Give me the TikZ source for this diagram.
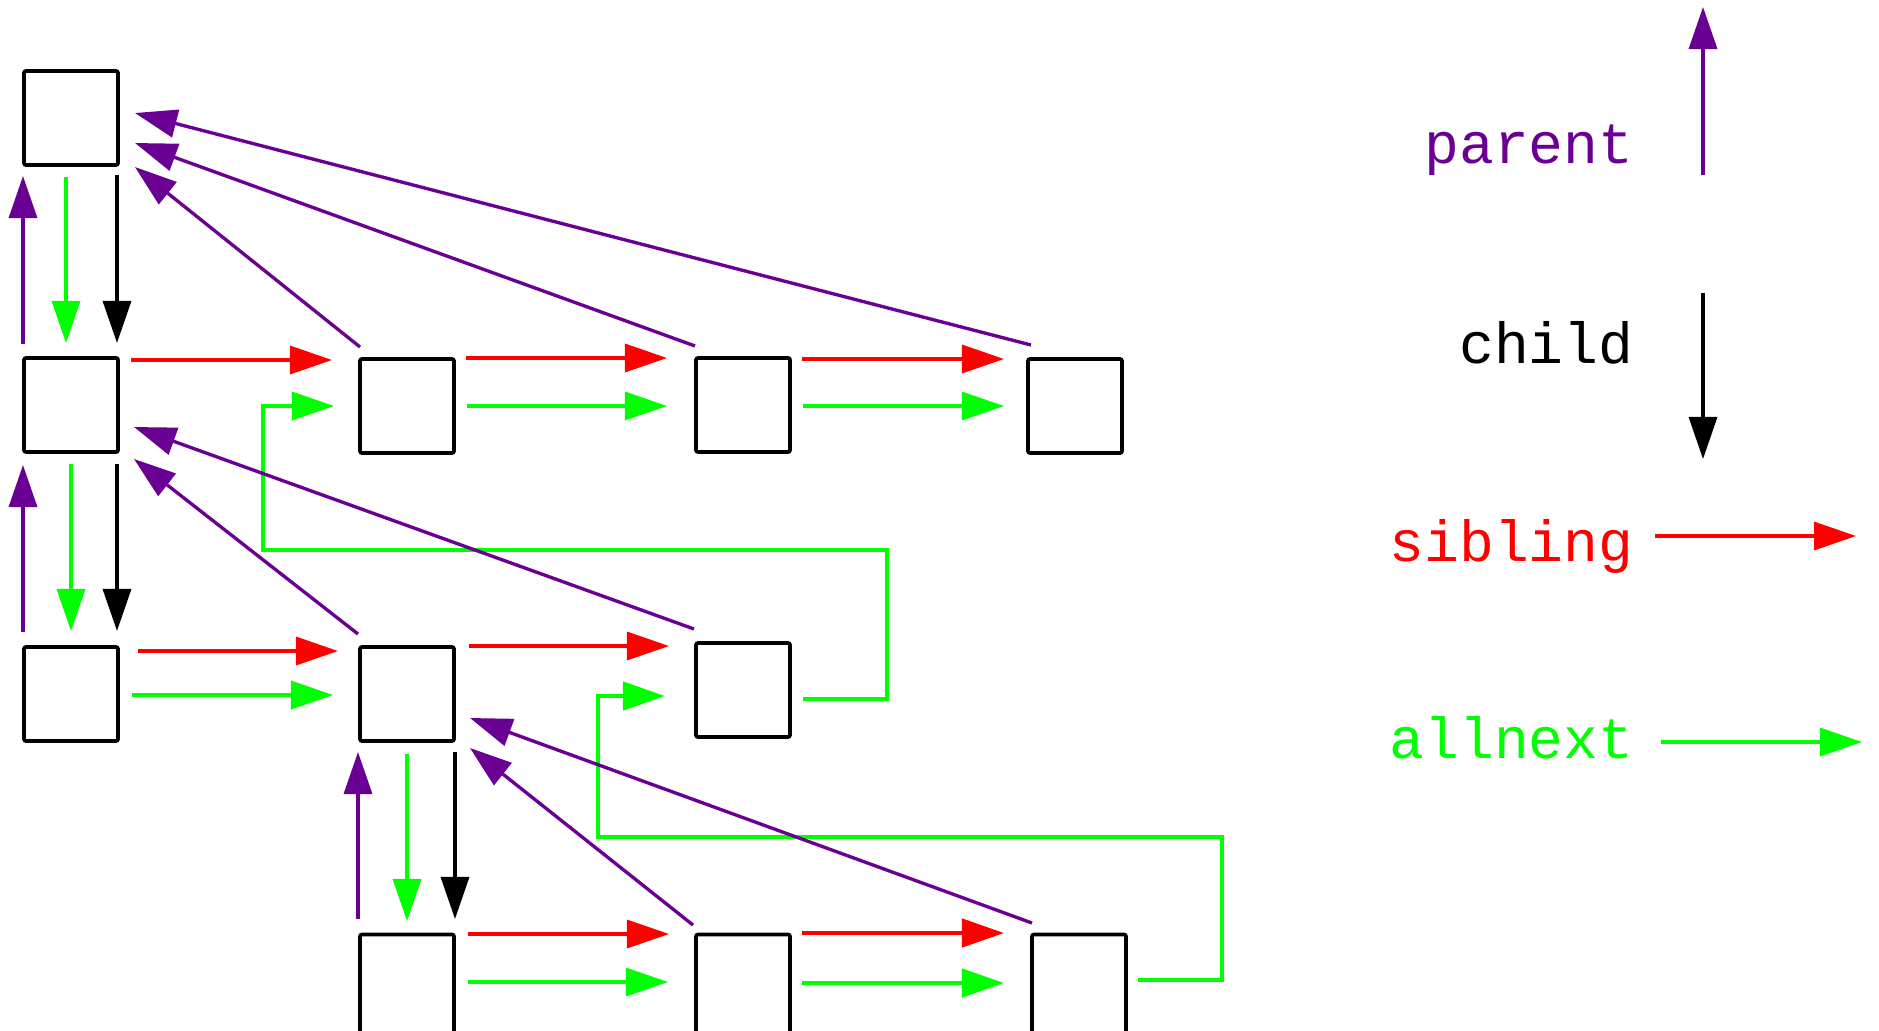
\documentclass[tikz,border=0pt]{standalone}
\usepackage{fontspec}
\setmonofont{Liberation Mono}
\usetikzlibrary{arrows.meta}
\definecolor{ptrpurple}{HTML}{690093}
\definecolor{ptrgreen}{HTML}{00FF00}
\definecolor{ptrred}{HTML}{FF0000}

\begin{document}
\begin{tikzpicture}[x=0.01cm,y=-0.01cm,
  listcell/.style={draw=black, line width=1.05pt, rounded corners=0.6pt,
    minimum width=0.94cm, minimum height=0.94cm, inner sep=0pt, outer sep=0pt},
  lowcell/.style={listcell, minimum height=1.05cm},
  ptrlink/.style={line width=0.95pt, -{Triangle[length=4.2mm,width=2.8mm]}},
  parentlink/.style={ptrlink, ptrpurple},
  childlink/.style={ptrlink, black},
  siblink/.style={ptrlink, ptrred},
  nextlink/.style={ptrlink, ptrgreen},
  legendtext/.style={anchor=base east, inner sep=0pt,
    font=\ttfamily\fontsize{16.5}{20}\selectfont},
]
\useasboundingbox (0,0) rectangle (1879,1030);

% tree cells
\node[listcell] (A) at (71,118) {};
\node[listcell] (B) at (71,405) {};
\node[listcell] (C) at (71,694) {};
\node[listcell] (D) at (407,406) {};
\node[listcell] (E) at (743,405) {};
\node[listcell] (F) at (1075,406) {};
\node[listcell] (G) at (407,694) {};
\node[listcell] (H) at (743,690) {};
% bottom row runs past the lower edge
\node[lowcell] (I) at (407,987) {};
\node[lowcell] (J) at (743,987) {};
\node[lowcell] (K) at (1079,987) {};

% A <-> B
\draw[parentlink] ([shift={(-48,-61)}]B.center) -- ([shift={(-48,58)}]A.center);
\draw[nextlink]   ([shift={(-5,59)}]A.center) -- ([shift={(-5,-62)}]B.center);
\draw[childlink]  ([shift={(46,57)}]A.center) -- ([shift={(46,-62)}]B.center);

% B <-> C
\draw[parentlink] ([shift={(-48,-62)}]C.center) -- ([shift={(-48,60)}]B.center);
\draw[nextlink]   ([shift={(0,59)}]B.center) -- ([shift={(0,-63)}]C.center);
\draw[childlink]  ([shift={(46,59)}]B.center) -- ([shift={(46,-63)}]C.center);

% G <-> I
\draw[parentlink] ([shift={(-49,-68)}]I.center) -- ([shift={(-49,58)}]G.center);
\draw[nextlink]   ([shift={(0,60)}]G.center) -- ([shift={(0,-66)}]I.center);
\draw[childlink]  ([shift={(48,58)}]G.center) -- ([shift={(48,-68)}]I.center);

% second row
\draw[siblink]  ([shift={(60,-45)}]B.center) -- ([shift={(-75,-46)}]D.center);
\draw[siblink]  ([shift={(59,-48)}]D.center) -- ([shift={(-76,-47)}]E.center);
\draw[siblink]  ([shift={(59,-46)}]E.center) -- ([shift={(-71,-47)}]F.center);
\draw[nextlink] ([shift={(60,0)}]D.center) -- ([shift={(-76,1)}]E.center);
\draw[nextlink] ([shift={(60,1)}]E.center) -- ([shift={(-71,0)}]F.center);

% third row
\draw[siblink]  ([shift={(67,-43)}]C.center) -- ([shift={(-69,-43)}]G.center);
\draw[nextlink] ([shift={(61,1)}]C.center) -- ([shift={(-74,1)}]G.center);
\draw[siblink]  ([shift={(62,-48)}]G.center) -- ([shift={(-74,-44)}]H.center);

% fourth row
\draw[siblink]  ([shift={(61,-53)}]I.center) -- ([shift={(-74,-53)}]J.center);
\draw[nextlink] ([shift={(61,-5)}]I.center) -- ([shift={(-75,-5)}]J.center);
\draw[siblink, line width=1.3pt]  ([shift={(59,-54)}]J.center) -- ([shift={(-75,-54)}]K.center);
\draw[nextlink, line width=1.3pt] ([shift={(59,-4)}]J.center) -- ([shift={(-75,-4)}]K.center);

% allnext wrap-around links
\coordinate (wrapHa) at (887,550);
\coordinate (wrapHb) at (263,550);
\draw[nextlink] ([shift={(60,9)}]H.center) -| (wrapHa) -- (wrapHb)
  |- ([shift={(-73,0)}]D.center);
\coordinate (wrapKa) at (1222,837);
\coordinate (wrapKb) at (598,837);
\draw[nextlink, line width=1.3pt] ([shift={(59,-7)}]K.center) -| (wrapKa) -- (wrapKb)
  |- ([shift={(-78,6)}]H.center);

% parent links
\draw[parentlink] ([shift={(-47,-59)}]D.center) -- ([shift={(64,49)}]A.center);
\draw[parentlink] ([shift={(-48,-59)}]E.center) -- ([shift={(64,25)}]A.center);
\draw[parentlink] ([shift={(-44,-61)}]F.center) -- ([shift={(64,-5)}]A.center);
\draw[parentlink] ([shift={(-49,-60)}]G.center) -- ([shift={(63,54)}]B.center);
\draw[parentlink] ([shift={(-49,-61)}]H.center) -- ([shift={(63,22)}]B.center);
\draw[parentlink] ([shift={(-50,-62)}]J.center) -- ([shift={(63,54)}]G.center);
\draw[parentlink] ([shift={(-47,-64)}]K.center) -- ([shift={(63,24)}]G.center);

% legend
\node[legendtext, text=ptrpurple] (lparent) at (1634,163) {parent};
\node[legendtext, text=black]     (lchild)  at (1634,363) {child};
\node[legendtext, text=ptrred]    (lsib)    at (1634,561) {sibling};
\node[legendtext, text=ptrgreen]  (lnext)   at (1634,758) {allnext};

\coordinate (parentFrom) at (1703,175);
\coordinate (parentTo)   at (1703,7);
\coordinate (childFrom)  at (1703,293);
\coordinate (childTo)    at (1703,459);
\coordinate (sibFrom)    at (1655,536);
\coordinate (sibTo)      at (1856,536);
\coordinate (nextFrom)   at (1661,742);
\coordinate (nextTo)     at (1862,742);
\draw[parentlink] (parentFrom) -- (parentTo);
\draw[childlink]  (childFrom) -- (childTo);
\draw[siblink]    (sibFrom) -- (sibTo);
\draw[nextlink]   (nextFrom) -- (nextTo);
\end{tikzpicture}
\end{document}
